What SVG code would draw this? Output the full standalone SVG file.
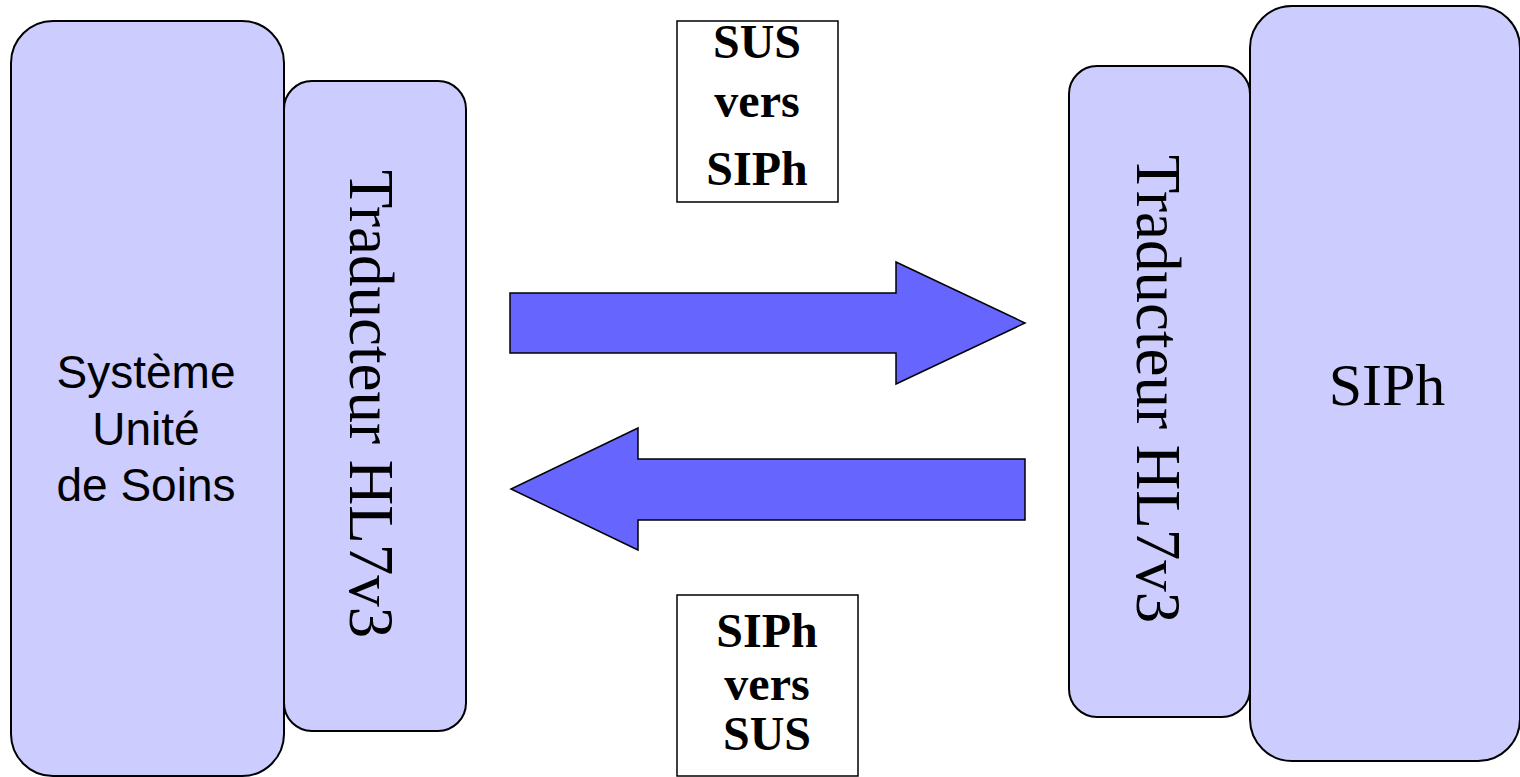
<svg xmlns="http://www.w3.org/2000/svg" width="1520" height="777" viewBox="0 0 1520 777">
<style>
.box{fill:#CCCCFF;stroke:#000;stroke-width:2}
.arrow{fill:#6666FF;stroke:#000;stroke-width:1.5;stroke-linejoin:miter}
.lbl{fill:#fff;stroke:#000;stroke-width:1.5}
.sans{font-family:"Liberation Sans",Arial,sans-serif;fill:#000}
.serif{font-family:"Liberation Serif","Times New Roman",serif;fill:#000}
.bold{font-family:"Liberation Serif","Times New Roman",serif;font-weight:bold;font-size:48px;fill:#000}
</style>
<rect width="1520" height="777" fill="#fff"/>
<g id="sus">
<rect class="box" x="11" y="21" width="273" height="755" rx="42" ry="42"/>
<text class="sans" font-size="46" text-anchor="middle"><tspan x="146" y="388">Système</tspan><tspan x="146" y="445">Unité</tspan><tspan x="146" y="501">de Soins</tspan></text>
</g>
<g id="trad-left">
<rect class="box" x="284" y="81" width="182" height="650" rx="28" ry="28"/>
<text class="serif" font-size="63" text-anchor="middle" transform="translate(350,404) rotate(90)">Traducteur HL7v3</text>
</g>
<g id="trad-right">
<rect class="box" x="1069" y="66" width="181" height="651" rx="28" ry="28"/>
<text class="serif" font-size="63" text-anchor="middle" transform="translate(1137,389) rotate(90)">Traducteur HL7v3</text>
</g>
<g id="siph">
<rect class="box" x="1250" y="6" width="270" height="755" rx="42" ry="42"/>
<text class="serif" font-size="60" text-anchor="middle" x="1387" y="405">SIPh</text>
</g>
<g id="connectors">
<polygon class="arrow" points="510,293 896,293 896,262 1025,323 896,384 896,353 510,353"/>
<polygon class="arrow" points="1025,459 638,459 638,428 511,489 638,550 638,520 1025,520"/>
</g>
<g id="label-sus-siph">
<rect class="lbl" x="677" y="21" width="161" height="181"/>
<text class="bold" text-anchor="middle"><tspan x="757" y="58">SUS</tspan><tspan x="757" y="117">vers</tspan><tspan x="757" y="185">SIPh</tspan></text>
</g>
<g id="label-siph-sus">
<rect class="lbl" x="677" y="595" width="181" height="181"/>
<text class="bold" text-anchor="middle"><tspan x="767" y="647">SIPh</tspan><tspan x="767" y="700">vers</tspan><tspan x="767" y="750">SUS</tspan></text>
</g>
</svg>
